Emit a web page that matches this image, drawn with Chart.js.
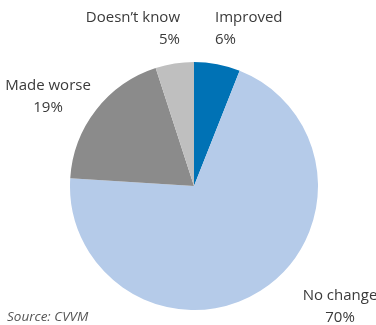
<!DOCTYPE html>
<html>
<head>
<meta charset="utf-8">
<script src="https://cdn.jsdelivr.net/npm/chart.js@4/dist/chart.umd.min.js"></script>
<style>
  html, body { margin: 0; padding: 0; background: #fff; }
  #wrap { position: relative; width: 376px; height: 325px; }
</style>
</head>
<body>
<div id="wrap"><canvas id="pie" width="376" height="325"></canvas></div>
<script>
// categories and shares (%), clockwise from 12 o'clock
const labels = ['Improved', 'No change', 'Made worse', 'Doesn\u2019t know'];
const values = [6, 70, 19, 5];
const colors = ['#0072b5', '#b5cbe9', '#8b8b8b', '#bfbfbf'];
const source = 'Source: CVVM';

// where each label sits: x, y of first line, alignment
const LABEL_POS = [
  { x: 215, y: 18, align: 'left' },
  { x: 340, y: 296, align: 'center' },
  { x: 48,  y: 86, align: 'center' },
  { x: 180, y: 18, align: 'right' },
];

const FONT = '"Open Sans", "Noto Sans", sans-serif';

const labelPlugin = {
  id: 'sliceLabels',
  afterDraw(chart) {
    const ctx = chart.ctx;
    ctx.save();
    ctx.fillStyle = '#3a3a3a';
    ctx.font = '15px ' + FONT;
    ctx.textBaseline = 'middle';
    labels.forEach((name, i) => {
      const p = LABEL_POS[i];
      ctx.textAlign = p.align;
      ctx.fillText(name, p.x, p.y);
      ctx.fillText(values[i] + '%', p.x, p.y + 22);
    });
    ctx.font = 'italic 13.5px ' + FONT;
    ctx.textAlign = 'left';
    ctx.fillStyle = '#555';
    ctx.fillText(source, 7, 317);
    ctx.restore();
  }
};

new Chart(document.getElementById('pie'), {
  type: 'pie',
  data: {
    labels: labels,
    datasets: [{
      data: values,
      backgroundColor: colors,
      borderWidth: 0,
    }]
  },
  options: {
    responsive: false,
    animation: false,
    layout: { padding: { left: 70, right: 58, top: 62, bottom: 15 } },
    plugins: {
      legend: { display: false },
      tooltip: { enabled: false },
    }
  },
  plugins: [labelPlugin]
});
</script>
</body>
</html>
